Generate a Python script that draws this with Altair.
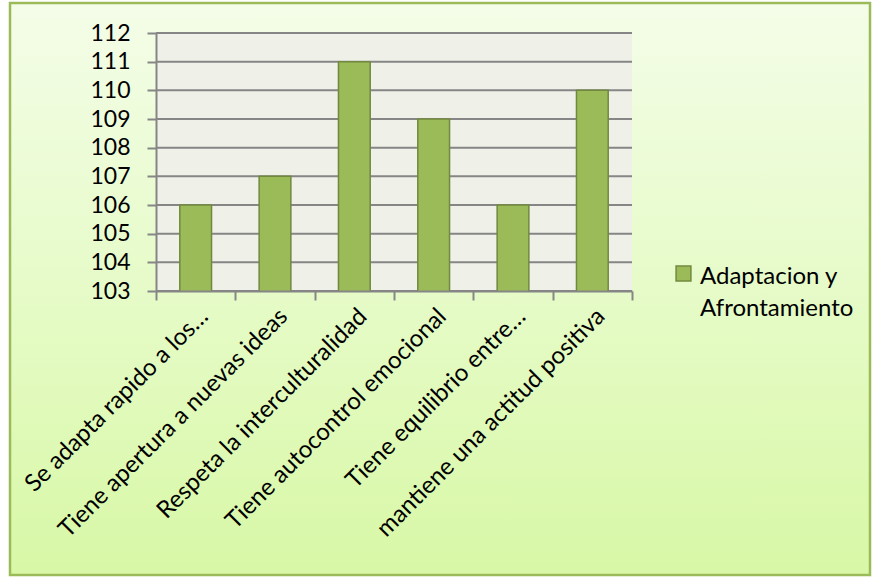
import altair as alt
import pandas as pd

categorias = [
    "Se adapta rapido a los…",
    "Tiene apertura a nuevas ideas",
    "Respeta la interculturalidad",
    "Tiene autocontrol emocional",
    "Tiene equilibrio entre…",
    "mantiene una actitud positiva",
]
valores = [106, 107, 111, 109, 106, 110]
serie = "Adaptacion y Afrontamiento"
ticks_y = [103, 104, 105, 106, 107, 108, 109, 110, 111, 112]

df = pd.DataFrame({"categoria": categorias, "valor": valores, "serie": [serie] * len(categorias)})
grid_df = pd.DataFrame({"t": ticks_y})
one = pd.DataFrame({"k": [0]})

W, H = 476, 258
FONT = "Lato"
GRAY = "#868686"

yscale = alt.Scale(domain=[103, 112], nice=False, zero=False)
xscale = alt.Scale(paddingInner=0, paddingOuter=0)

yaxis = alt.Axis(
    values=ticks_y,
    labelFont=FONT,
    labelFontSize=23,
    labelColor="#000000",
    labelPadding=17,
    labelOverlap=False,
    tickSize=9,
    tickColor=GRAY,
    tickWidth=2,
    domainColor=GRAY,
    domainWidth=2,
    grid=False,
    zindex=1,
)

background = alt.Chart(one).mark_rect(
    fill=alt.Gradient(
        gradient="linear",
        stops=[
            alt.GradientStop(color="#f4fde8", offset=0),
            alt.GradientStop(color="#e6fbc8", offset=0.5),
            alt.GradientStop(color="#d8f8a6", offset=1),
        ],
        x1=0, x2=0, y1=0, y2=1,
    ),
    stroke="#9bbb59",
    strokeWidth=2.5,
    clip=False,
).encode(
    x=alt.value(-146), x2=alt.value(714), y=alt.value(-30), y2=alt.value(542)
)

plot_bg = alt.Chart(one).mark_rect(fill="#eff0e8").encode(
    x=alt.value(0), x2=alt.value("width"), y=alt.value(0), y2=alt.value("height")
)

grid = alt.Chart(grid_df).mark_rule(color=GRAY, strokeWidth=2).encode(
    y=alt.Y("t:Q", scale=yscale, axis=yaxis, title=None)
)

bars = alt.Chart(df).mark_bar(
    stroke="#71893f", strokeWidth=1.5, clip=True, width=alt.RelativeBandSize(0.4)
).encode(
    x=alt.X(
        "categoria:N",
        sort=categorias,
        scale=xscale,
        title=None,
        axis=alt.Axis(
            labelAngle=-45,
            labelAlign="right",
            labelBaseline="top",
            labelFont=FONT,
            labelFontSize=24,
            labelColor="#000000",
            labelLimit=0,
            labelPadding=4,
            labelOverlap=False,
            tickBand="extent",
            tickSize=9,
            tickColor=GRAY,
            tickWidth=2,
            domainColor=GRAY,
            domainWidth=2,
            grid=False,
            zindex=1,
        ),
    ),
    y=alt.Y("valor:Q", scale=yscale, title=None, axis=yaxis),
    color=alt.Color(
        "serie:N",
        scale=alt.Scale(range=["#9bbb59"]),
        legend=alt.Legend(
            title=[serie[:12], serie[13:]],
            titleOrient="right",
            titleAnchor="start",
            titleBaseline="top",
            titleFont=FONT,
            titleFontSize=24,
            titleFontWeight="normal",
            titleColor="#000000",
            titleLineHeight=32,
            titlePadding=6,
            titleLimit=0,
            orient="none",
            legendX=519,
            legendY=232,
            padding=0,
            symbolType="square",
            symbolSize=220,
            symbolStrokeColor="#71893f",
            symbolStrokeWidth=1.5,
            labelExpr="''",
            labelOffset=0,
            labelFontSize=1,
            zindex=1,
        ),
    ),
)

chart = alt.layer(background, plot_bg, grid, bars).properties(
    width=W,
    height=H,
    autosize=alt.AutoSizeParams(type="none"),
    padding={"left": 156, "top": 33, "right": 873 - 156 - W, "bottom": 577 - 33 - H},
    background="#ffffff",
).configure_view(stroke=None)

chart.save("out.html", embed_options={"renderer": "svg", "actions": False})
